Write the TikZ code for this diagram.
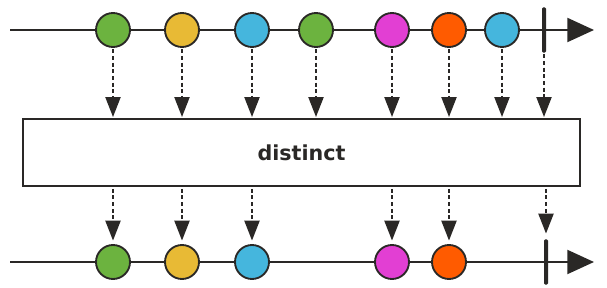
\documentclass[tikz,border=0pt]{standalone}
\usepackage{fontspec}
\setsansfont{DejaVu Sans}
\usepackage{tikz}
\usetikzlibrary{arrows.meta,positioning}
\definecolor{ink}{HTML}{2A2826}
\definecolor{leaf}{HTML}{6CB33F}
\definecolor{mustard}{HTML}{E8BA35}
\definecolor{sky}{HTML}{45B6DD}
\definecolor{orchid}{HTML}{E23FD3}
\definecolor{flame}{HTML}{FF5B00}
\tikzset{
  timeline/.style={draw=ink,line width=1.5pt,-{Triangle[length=20pt,width=18pt]}},
  marble/.style={circle,draw=ink,line width=1.4pt,minimum size=25.5pt,inner sep=0pt},
  endbar/.style={fill=ink,draw=none,rounded corners=1pt,minimum width=3pt,minimum height=34pt,inner sep=0pt},
  opbox/.style={draw=ink,line width=1.5pt,fill=white,minimum width=417.75pt,minimum height=50.25pt,
    font=\sffamily\bfseries\fontsize{15.5}{18}\selectfont,text=ink},
  emit/.style={draw=ink,line width=2.2pt,dash pattern=on 3pt off 2pt,
    -{Triangle[length=15pt,width=11pt,sep=0pt]},shorten <=1pt}
}

\begin{document}
\begin{tikzpicture}[x=0.75pt,y=-0.75pt]
  \useasboundingbox (0,0) rectangle (607,288);

  % input stream
  \coordinate (inStart) at (10,30);
  \coordinate (inEnd) at (594,30);
  \draw[timeline] (inStart) -- (inEnd);
  \node[marble,fill=leaf] (in1) at (113,30) {};
  \node[marble,fill=mustard] (in2) at (182,30) {};
  \node[marble,fill=sky] (in3) at (252,30) {};
  \node[marble,fill=leaf] (in4) at (316,30) {};
  \node[marble,fill=orchid] (in5) at (392,30) {};
  \node[marble,fill=flame] (in6) at (449,30) {};
  \node[marble,fill=sky] (in7) at (502,30) {};
  \node[endbar] (inDone) at (544,30) {};

  % operator
  \node[opbox] (op) at (301.5,153) {distinct};

  % output stream
  \coordinate (outStart) at (10,262);
  \coordinate (outEnd) at (594,262);
  \draw[timeline] (outStart) -- (outEnd);
  \node[marble,fill=leaf] (out1) at (113,262) {};
  \node[marble,fill=mustard] (out2) at (182,262) {};
  \node[marble,fill=sky] (out3) at (252,262) {};
  \node[marble,fill=orchid] (out5) at (392,262) {};
  \node[marble,fill=flame] (out6) at (449,262) {};
  \node[endbar] (outDone) at (546,262) {};

  % emissions into the operator
  \foreach \m in {in1,in2,in3,in4,in5,in6,in7,inDone}
    \draw[emit,shorten >=1pt] (\m.south) -- (\m.south |- op.north);

  % emissions out of the operator
  \foreach \m in {out1,out2,out3,out5,out6}
    \draw[emit,shorten >=2.5pt] (\m.north |- op.south) -- (\m.north);
  \draw[emit,shorten >=4pt] (outDone.north |- op.south) -- (outDone.north);
\end{tikzpicture}
\end{document}
